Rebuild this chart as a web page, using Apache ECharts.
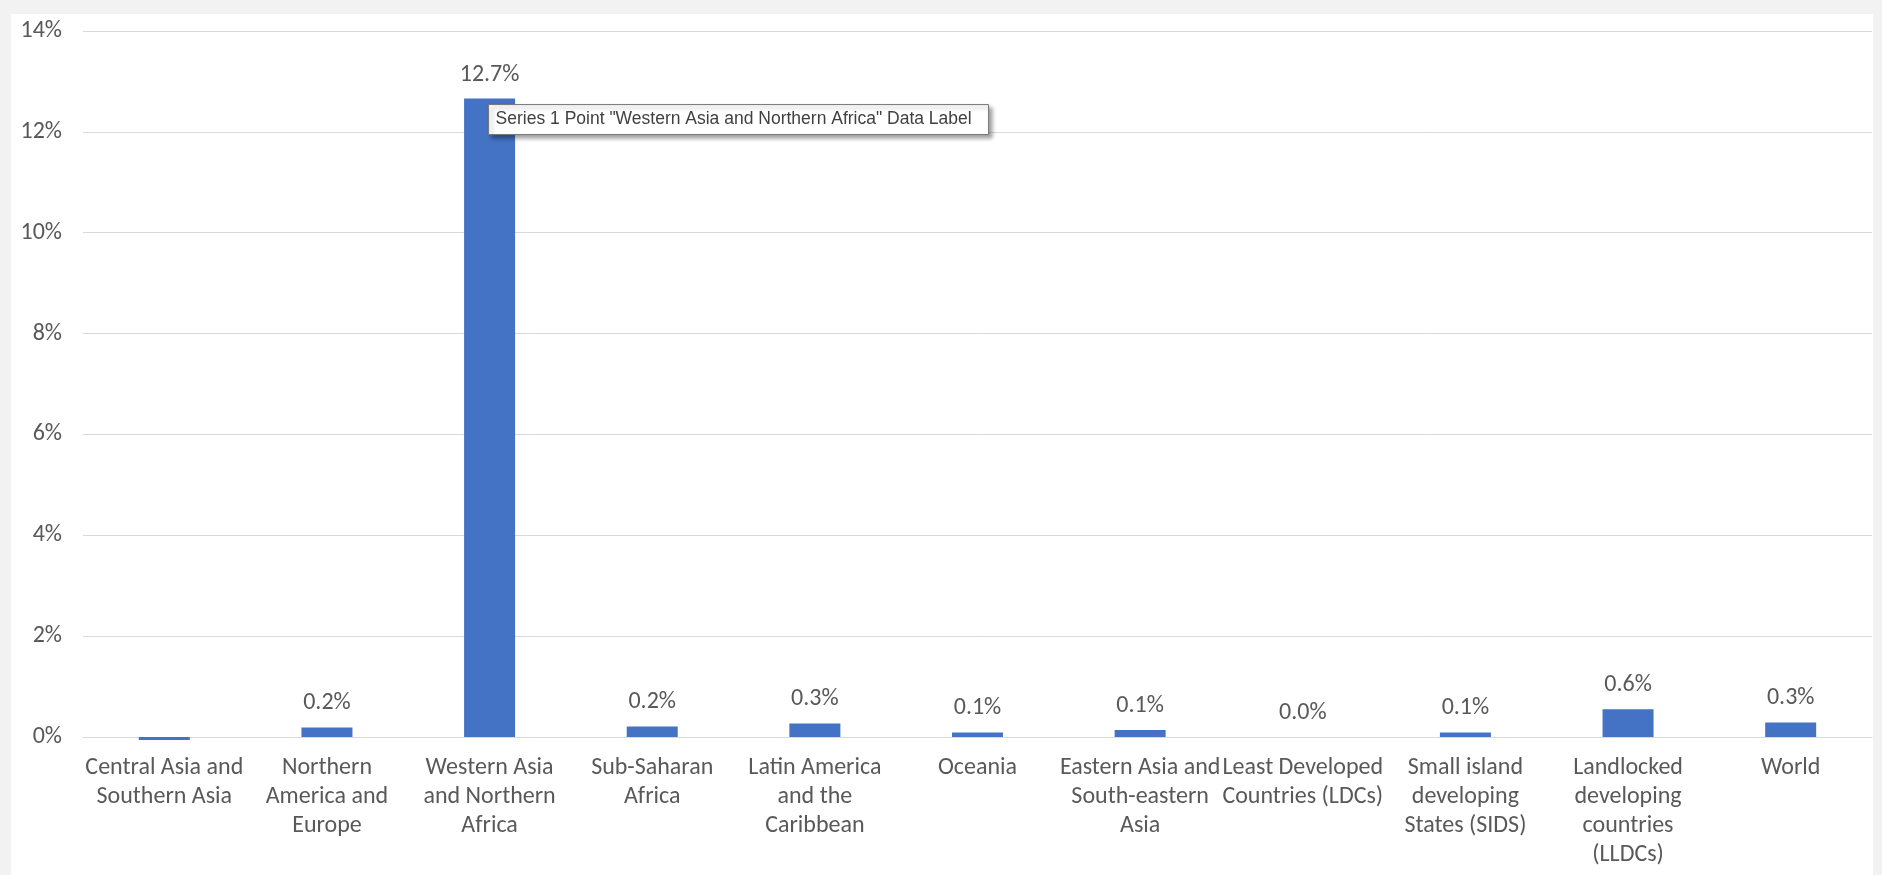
<!DOCTYPE html>
<html>
<head>
<meta charset="utf-8">
<script src="https://cdn.jsdelivr.net/npm/echarts@6/dist/echarts.min.js"></script>
<style>
  html, body { margin: 0; padding: 0; background: #f2f2f2; }
  #chart { width: 1882px; height: 875px; }
</style>
</head>
<body>
<div id="chart"></div>
<script>
const categories = [
  'Central Asia and Southern Asia',
  'Northern America and Europe',
  'Western Asia and Northern Africa',
  'Sub-Saharan Africa',
  'Latin America and the Caribbean',
  'Oceania',
  'Eastern Asia and South-eastern Asia',
  'Least Developed Countries (LDCs)',
  'Small island developing States (SIDS)',
  'Landlocked developing countries (LLDCs)',
  'World'
];
const categoryLabels = [
  'Central Asia and\nSouthern Asia',
  'Northern\nAmerica and\nEurope',
  'Western Asia\nand Northern\nAfrica',
  'Sub-Saharan\nAfrica',
  'Latin America\nand the\nCaribbean',
  'Oceania',
  'Eastern Asia and\nSouth-eastern\nAsia',
  'Least Developed\nCountries (LDCs)',
  'Small island\ndeveloping\nStates (SIDS)',
  'Landlocked\ndeveloping\ncountries\n(LLDCs)',
  'World'
];
const values = [-0.06, 0.19, 12.66, 0.21, 0.27, 0.09, 0.14, 0.0, 0.09, 0.55, 0.29];
const dataLabels = ['', '0.2%', '12.7%', '0.2%', '0.3%', '0.1%', '0.1%', '0.0%', '0.1%', '0.6%', '0.3%'];
const yTicks = [0, 2, 4, 6, 8, 10, 12, 14];
const tooltipText = 'Series 1 Point "Western Asia and Northern Africa" Data Label';

const FONT = "Carlito, Calibri, 'Liberation Sans', sans-serif";
const chart = echarts.init(document.getElementById('chart'), null, { renderer: 'canvas' });

const option = {
  backgroundColor: 'transparent',
  animation: false,
  textStyle: { fontFamily: FONT },
  grid: { left: 83, right: 10, top: 31, bottom: 138, containLabel: false },
  xAxis: {
    type: 'category',
    data: categories,
    z: 1,
    axisLine: { lineStyle: { color: '#d9d9d9', width: 1 } },
    axisTick: { show: false },
    axisLabel: {
      interval: 0,
      color: '#595959',
      fontFamily: FONT,
      fontSize: 24,
      lineHeight: 29,
      margin: 16,
      formatter: (v, i) => categoryLabels[i]
    }
  },
  yAxis: {
    type: 'value',
    min: yTicks[0],
    max: yTicks[yTicks.length - 1],
    interval: yTicks[1] - yTicks[0],
    axisLine: { show: false },
    axisTick: { show: false },
    splitLine: { lineStyle: { color: '#d9d9d9', width: 1 } },
    axisLabel: {
      color: '#595959',
      fontFamily: FONT,
      fontSize: 24,
      margin: 21,
      formatter: '{value}%'
    }
  },
  series: [{
    name: 'Series 1',
    type: 'bar',
    z: 5,
    clip: false,
    data: values,
    barWidth: 51,
    itemStyle: { color: '#4472c4' },
    label: {
      show: true,
      position: 'top',
      distance: 12,
      color: '#595959',
      fontFamily: FONT,
      fontSize: 24,
      formatter: p => dataLabels[p.dataIndex]
    }
  }]
};
chart.setOption(option);

// white chart panel and Excel hover tooltip annotation
const anchor = chart.convertToPixel({ xAxisIndex: 0, yAxisIndex: 0 }, [categories[2], values[2]]);
chart.setOption({
  graphic: [
    {
      type: 'rect',
      z: -10,
      silent: true,
      shape: { x: 11, y: 14, width: 1862, height: 875 },
      style: { fill: '#ffffff' }
    },
    {
      type: 'rect',
      z: 100,
      zlevel: 0,
      silent: true,
      shape: { x: anchor[0] - 1, y: anchor[1] + 6, width: 500, height: 30 },
      style: {
        fill: '#ffffff',
        stroke: '#767676',
        lineWidth: 1,
        shadowColor: 'rgba(0,0,0,0.35)',
        shadowBlur: 4,
        shadowOffsetX: 3,
        shadowOffsetY: 3
      }
    },
    {
      type: 'text',
      z: 101,
      zlevel: 0,
      silent: true,
      x: anchor[0] + 6,
      y: anchor[1] + 21,
      style: {
        text: tooltipText,
        fill: '#404040',
        font: "17.5px 'Liberation Sans', sans-serif",
        verticalAlign: 'middle'
      }
    }
  ]
});
</script>
</body>
</html>
